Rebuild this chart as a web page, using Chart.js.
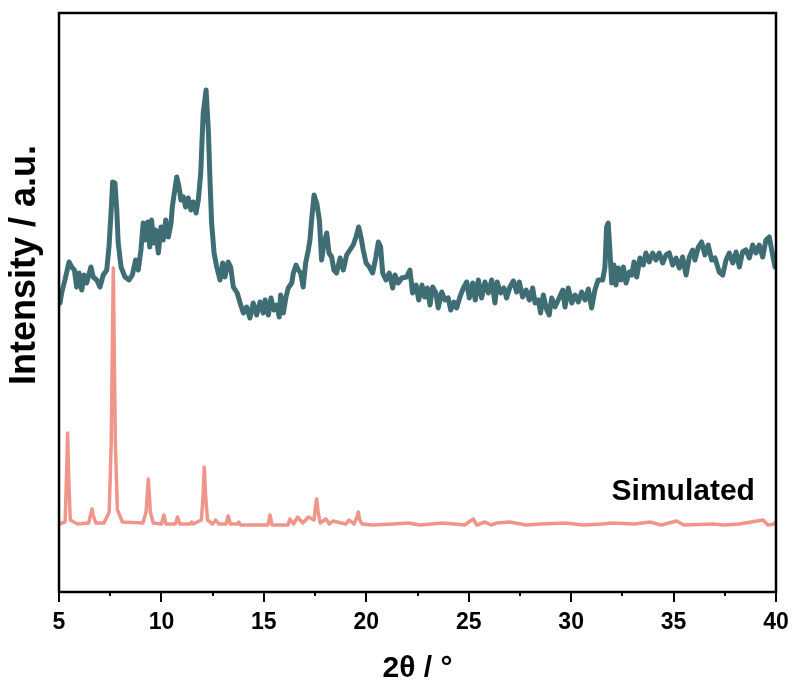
<!DOCTYPE html>
<html lang="en">
<head>
  <meta charset="utf-8">
  <title>PXRD 2θ pattern</title>
  <script src="https://cdn.jsdelivr.net/npm/chart.js@4.4.3/dist/chart.umd.min.js"></script>
  <style>
    html, body { margin: 0; padding: 0; background: #fff; }
    #wrap { width: 792px; height: 686px; }
  </style>
</head>
<body>
  <div id="wrap"><canvas id="xrdChart" width="792" height="686"></canvas></div>

  <script>
    // measured pattern (2θ in degrees, intensity in a.u.)
    const expTheta = [
      5.05, 5.13, 5.29, 5.49, 5.62, 5.75, 5.86, 5.98, 6.11, 6.23, 6.35, 6.56, 6.67, 6.84, 7.00, 7.16, 7.33, 7.44, 7.54, 7.62,
      7.73, 7.82, 7.89, 8.03, 8.22, 8.42, 8.58, 8.74, 8.87, 9.00, 9.11, 9.20, 9.33, 9.43, 9.52, 9.62, 9.72, 9.85, 9.98, 10.09,
      10.21, 10.34, 10.47, 10.53, 10.63, 10.75, 10.86, 10.95, 11.07, 11.18, 11.31, 11.44, 11.56, 11.69, 11.80, 11.92, 11.97, 12.04, 12.18, 12.29,
      12.37, 12.45, 12.57, 12.70, 12.86, 12.99, 13.10, 13.26, 13.38, 13.51, 13.70, 13.84, 14.00, 14.16, 14.32, 14.48, 14.65, 14.81, 14.97, 15.06,
      15.22, 15.35, 15.49, 15.63, 15.75, 15.82, 15.95, 16.08, 16.19, 16.36, 16.44, 16.57, 16.68, 16.80, 16.92, 17.04, 17.17, 17.25, 17.33, 17.45,
      17.58, 17.71, 17.82, 17.94, 18.07, 18.18, 18.31, 18.42, 18.55, 18.72, 18.88, 19.04, 19.20, 19.36, 19.50, 19.63, 19.74, 19.85, 19.99, 20.15,
      20.31, 20.47, 20.59, 20.70, 20.80, 20.96, 21.12, 21.29, 21.40, 21.56, 21.73, 21.97, 22.13, 22.26, 22.43, 22.56, 22.72, 22.85, 22.98, 23.11,
      23.24, 23.40, 23.51, 23.68, 23.84, 24.00, 24.12, 24.28, 24.41, 24.57, 24.74, 24.90, 25.03, 25.19, 25.32, 25.47, 25.63, 25.79, 25.96, 26.12,
      26.28, 26.39, 26.56, 26.72, 26.85, 27.01, 27.18, 27.34, 27.47, 27.63, 27.80, 27.96, 28.12, 28.24, 28.40, 28.51, 28.64, 28.81, 28.93, 29.05,
      29.21, 29.37, 29.59, 29.70, 29.86, 30.03, 30.19, 30.35, 30.51, 30.68, 30.84, 31.00, 31.16, 31.32, 31.54, 31.65, 31.73, 31.81, 31.89, 31.98,
      32.09, 32.19, 32.30, 32.43, 32.55, 32.68, 32.84, 32.96, 33.07, 33.20, 33.36, 33.52, 33.65, 33.81, 33.98, 34.14, 34.30, 34.47, 34.63, 34.79,
      34.96, 35.12, 35.28, 35.44, 35.61, 35.77, 35.93, 36.04, 36.21, 36.37, 36.53, 36.69, 36.86, 37.02, 37.23, 37.40, 37.56, 37.72, 37.89, 38.05,
      38.21, 38.37, 38.53, 38.70, 38.86, 39.02, 39.18, 39.35, 39.51, 39.67, 39.79, 39.95
    ];
    const expIntensity = [
      289, 299, 312, 330, 325, 322, 305, 319, 302, 317, 309, 325, 315, 312, 305, 317, 322, 345, 379, 410,
      409, 382, 349, 325, 315, 312, 317, 332, 322, 342, 369, 352, 370, 345, 372, 349, 362, 339, 365, 352,
      372, 355, 369, 385, 399, 415, 405, 392, 395, 385, 394, 382, 390, 379, 392, 419, 445, 479, 502, 462,
      412, 369, 339, 325, 312, 329, 315, 330, 325, 305, 299, 289, 279, 285, 274, 289, 277, 290, 279, 292,
      277, 294, 282, 287, 275, 297, 279, 295, 304, 309, 319, 327, 322, 319, 305, 329, 342, 352, 372, 397,
      389, 372, 332, 349, 359, 339, 335, 322, 319, 334, 322, 337, 342, 347, 355, 365, 355, 342, 329, 325,
      319, 335, 350, 345, 319, 312, 319, 304, 317, 309, 314, 315, 322, 299, 307, 292, 307, 295, 304, 287,
      305, 299, 284, 300, 292, 294, 282, 290, 284, 295, 304, 310, 294, 309, 292, 312, 294, 310, 299, 312,
      289, 310, 299, 304, 294, 305, 311, 300, 310, 295, 302, 292, 304, 289, 292, 279, 297, 282, 277, 294,
      285, 292, 302, 285, 304, 289, 297, 290, 300, 292, 303, 284, 302, 312, 312, 325, 365, 369, 342, 309,
      327, 307, 324, 312, 325, 309, 320, 317, 330, 315, 334, 327, 339, 330, 339, 332, 339, 329, 337, 339,
      327, 334, 324, 335, 317, 335, 342, 332, 345, 350, 337, 347, 332, 334, 320, 317, 332, 339, 329, 340,
      325, 340, 342, 334, 347, 339, 347, 335, 352, 355, 342, 325
    ];

    // simulated pattern
    const simTheta = [
      5.00, 5.30, 5.36, 5.42, 5.48, 5.55, 5.90, 6.45, 6.55, 6.61, 6.68, 6.80, 7.20, 7.45, 7.55, 7.65, 7.75, 7.85, 8.10, 9.10,
      9.25, 9.36, 9.46, 9.60, 10.00, 10.12, 10.22, 10.68, 10.79, 10.90, 11.40, 11.47, 11.55, 11.95, 12.03, 12.09, 12.16, 12.25, 12.50, 12.65,
      12.80, 13.15, 13.26, 13.37, 13.70, 13.78, 13.86, 15.20, 15.30, 15.40, 16.18, 16.27, 16.45, 16.65, 16.90, 17.17, 17.45, 17.52, 17.58, 17.65,
      17.75, 18.03, 18.20, 18.36, 19.00, 19.17, 19.40, 19.55, 19.61, 19.68, 19.80, 20.30, 21.30, 22.05, 22.60, 23.76, 24.80, 25.22, 25.40, 25.79,
      26.10, 26.36, 27.00, 27.80, 28.50, 29.70, 30.60, 31.50, 32.00, 33.10, 33.84, 34.40, 35.15, 35.50, 36.93, 37.50, 38.20, 39.37, 39.60, 39.90,
      40.00
    ];
    const simIntensity = [
      68, 70, 110, 159, 110, 72, 68, 69, 78, 83, 76, 69, 69, 80, 150, 324, 150, 82, 70, 69,
      80, 113, 80, 69, 68, 77, 68, 68, 75, 68, 68, 70, 68, 72, 95, 125, 95, 72, 68, 72,
      68, 68, 76, 68, 68, 70, 67, 67, 77, 67, 67, 73, 68, 75, 69, 75, 72, 85, 93, 80,
      69, 73, 68, 71, 68, 72, 68, 75, 80, 72, 68, 67, 68, 69, 67, 69, 67, 73, 67, 70,
      67, 69, 70, 67, 68, 69, 67, 68, 69, 68, 70, 67, 71, 67, 68, 67, 68, 72, 67, 68,
      70
    ];

    const xTickValues = [5, 10, 15, 20, 25, 30, 35, 40];
    const simLabel = 'Simulated';
    const yTitle = 'Intensity / a.u.';

    const FONT = '"Liberation Sans", Arial, Helvetica, sans-serif';

    const toPoints = (xs, ys) => xs.map((x, i) => ({ x: x, y: ys[i] }));

    // frame, tick marks, y title and the series label
    const framePlugin = {
      id: 'frame',
      afterDraw(chart) {
        const { ctx, chartArea: a, scales } = chart;
        const xs = scales.x;
        ctx.save();
        ctx.strokeStyle = '#000';
        ctx.lineWidth = 2.5;
        ctx.strokeRect(a.left, a.top, a.right - a.left, a.bottom - a.top);

        ctx.lineWidth = 2;
        for (let v = 5; v <= 40; v += 2.5) {
          const px = Math.round(xs.getPixelForValue(v));
          const len = (v % 5 === 0) ? 10 : 4;
          ctx.beginPath();
          ctx.moveTo(px, a.bottom);
          ctx.lineTo(px, a.bottom + len);
          ctx.stroke();
        }

        ctx.fillStyle = '#000';
        ctx.font = 'bold 30px ' + FONT;
        ctx.textAlign = 'right';
        ctx.textBaseline = 'alphabetic';
        ctx.fillText(simLabel, xs.getPixelForValue(38.97), scales.y.getPixelForValue(92));

        // y axis title, a bit above the middle of the frame
        ctx.translate(25, 265);
        ctx.rotate(-Math.PI / 2);
        ctx.textAlign = 'center';
        ctx.textBaseline = 'middle';
        ctx.font = 'bold 36px ' + FONT;
        ctx.fillText(yTitle, 0, 0);
        ctx.restore();
      }
    };

    new Chart(document.getElementById('xrdChart').getContext('2d'), {
      type: 'line',
      data: {
        datasets: [
          {
            label: 'Experimental',
            data: toPoints(expTheta, expIntensity),
            borderColor: '#3e6d74',
            borderWidth: 5,
            pointRadius: 0,
            tension: 0,
            borderJoinStyle: 'round',
            borderCapStyle: 'round'
          },
          {
            label: simLabel,
            data: toPoints(simTheta, simIntensity),
            borderColor: '#f0958a',
            borderWidth: 3.5,
            pointRadius: 0,
            tension: 0,
            borderJoinStyle: 'round',
            borderCapStyle: 'round'
          }
        ]
      },
      options: {
        responsive: false,
        animation: false,
        layout: { padding: { top: 13, right: 16, left: 0, bottom: 0 } },
        plugins: {
          legend: { display: false },
          tooltip: { enabled: false }
        },
        scales: {
          x: {
            type: 'linear',
            min: 5,
            max: 40,
            afterFit: s => { s.height = 94; s.paddingLeft = 0; s.paddingRight = 0; },
            afterBuildTicks: s => { s.ticks = xTickValues.map(v => ({ value: v })); },
            grid: { display: false },
            border: { display: false },
            ticks: {
              color: '#000',
              padding: 9,
              maxRotation: 0,
              font: { family: FONT, size: 23, weight: 'bold' }
            },
            title: {
              display: true,
              text: '2θ / °',
              color: '#000',
              padding: { top: 0, bottom: 2 },
              font: { family: FONT, size: 30, weight: 'bold', lineHeight: 1 }
            }
          },
          y: {
            min: 0,
            max: 579,
            afterFit: s => { s.width = 59; },
            grid: { display: false },
            border: { display: false },
            ticks: { display: false }
          }
        }
      },
      plugins: [framePlugin]
    });
  </script>
</body>
</html>
